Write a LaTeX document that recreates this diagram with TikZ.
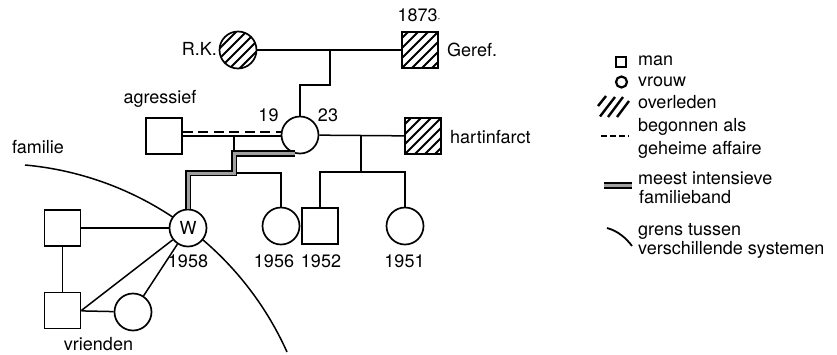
\documentclass[tikz,border=0pt]{standalone}
\usepackage{fontspec}
\setmainfont{TeX Gyre Heros}
\begin{document}
\begin{tikzpicture}[x=1pt,y=-1pt,
  every node/.style={font=\fontsize{18}{21}\selectfont},
  thinln/.style={line width=1.5pt},
  man/.style={draw, line width=1.7pt, minimum size=36pt, inner sep=0pt, fill=white},
  vrouw/.style={circle, draw, line width=1.7pt, minimum size=37pt, inner sep=0pt, fill=white},
  hatch/.style={path picture={\foreach \k in {-40,-30,...,40} \draw[line width=2pt] ([xshift=\k pt]path picture bounding box.south west) -- ++(50pt,50pt);}},
  band/.style={line width=1.7pt, double=gray!75, double distance=3pt},
  lbl/.style={inner sep=0pt}
]
\useasboundingbox (0,0) rectangle (837,354);

% boundary between systems
\draw[thinln] (25,165) .. controls (139.7,175.4) and (239.8,246.9) .. (287,352);

% persons
\node[vrouw, hatch] (rk) at (238,50) {};
\node[man, hatch] (geref) at (420,50) {};
\node[vrouw] (mother) at (300,135) {};
\node[man] (agr) at (164,136) {};
\node[man, hatch] (hart) at (423,136) {};
\node[vrouw] (W) at (188,228) {W};
\node[vrouw] (d1956) at (281,226) {};
\node[man] (s1952) at (320,226) {};
\node[vrouw] (d1951) at (405,226) {};
\node[man] (f1) at (62.5,228) {};
\node[man] (f2) at (62.5,310.5) {};
\node[vrouw] (fc) at (133,312) {};

% labels
\node[lbl, anchor=base] (t1873) at (419,21) {1873{\fontsize{8}{8}\selectfont -}};
\node[lbl, anchor=base east] (trk) at (217,55) {R.K.};
\node[lbl, anchor=base west] (tgeref) at (447,56) {Geref.};
\node[lbl, anchor=base west] (thart) at (450,143) {hartinfarct};
\node[lbl, anchor=base] (t19) at (268.5,121) {19};
\node[lbl, anchor=base] (t23) at (328,121) {23};
\node[lbl, anchor=base] (tagr) at (160,103) {agressief};
\node[lbl, anchor=base] (tfam) at (38,153) {familie};
\node[lbl, anchor=base] (t1958) at (188,267) {1958};
\node[lbl, anchor=base] (t1956) at (274,267) {1956};
\node[lbl, anchor=base] (t1952) at (321,267) {1952};
\node[lbl, anchor=base] (t1951) at (404.5,267) {1951};
\node[lbl, anchor=base] (tvr) at (98.5,350) {vrienden};

% junctions
\coordinate (pj) at (330,50);
\coordinate (pk) at (330,85);
\coordinate (s1) at (234,136);
\coordinate (s1b) at (234,173);
\coordinate (s2) at (361,135.5);
\coordinate (s2b) at (361,172);

% family connectors
\draw[thinln] (rk) -- (geref);
\draw[thinln] (pj) -- (pk) -| (mother);
\draw[thinln] (agr.east) -- (agr.east -| mother.west);
\draw[thinln, line width=1.8pt, dash pattern=on 10pt off 5.5pt] ([yshift=4pt]agr.east) -- ([yshift=4pt]agr.east -| mother.west);
\draw[thinln] (mother) -- (hart);
\draw[thinln] (s1) -- (s1b);
\draw[thinln] (W) |- (s1b) -| (d1956);
\draw[thinln] (s2) -- (s2b);
\draw[thinln] (s1952) |- (s2b) -| (d1951);

% friends
\draw[thinln] (f1) -- (W);
\draw[thinln] (f1) -- (f2);
\draw[thinln] (f2.east) -- (W);
\draw[thinln] (f2) -- (fc);
\draw[thinln] (fc) -- (W);

% most intensive family bond
\draw[band] (mother.255) -- (mother.255 -| s1b) -- (s1b) -| (W.north);

% legend
\node[draw, line width=2.2pt, minimum size=10pt, inner sep=0pt] (lman) at (621,62) {};
\node[circle, draw, line width=2.2pt, minimum size=11pt, inner sep=0pt] (lvrouw) at (621.5,82) {};
\draw[line width=2.4pt] (598,106) -- (606,96);
\draw[line width=2.4pt] (600,116.5) -- (615,97);
\draw[line width=2.4pt] (608,117) -- (623,97);
\draw[line width=2.4pt] (617,117) -- (629,101);
\draw[line width=1.8pt, dash pattern=on 6pt off 3pt] (601,136) -- (629,136);
\draw[band, line width=2pt, double distance=3.5pt] (604,185.5) -- (632,185.5);
\draw[line width=1.8pt] (607,228) .. controls (618,231) and (626,238) .. (632,246);

\node[lbl, anchor=base west] (lt1) at (638,65) {man};
\node[lbl, anchor=base west] (lt2) at (638,86) {vrouw};
\node[lbl, anchor=base west] (lt3) at (638,108) {overleden};
\node[lbl, anchor=base west] (lt4) at (638,131.5) {begonnen als};
\node[lbl, anchor=base west] (lt5) at (638,154) {geheime affaire};
\node[lbl, anchor=base west] (lt6) at (638,184) {meest intensieve};
\node[lbl, anchor=base west] (lt7) at (639,203) {familieband};
\node[lbl, anchor=base west] (lt8) at (638,235) {grens tussen};
\node[lbl, anchor=base west] (lt9) at (638,254) {verschillende systemen};
\end{tikzpicture}
\end{document}
